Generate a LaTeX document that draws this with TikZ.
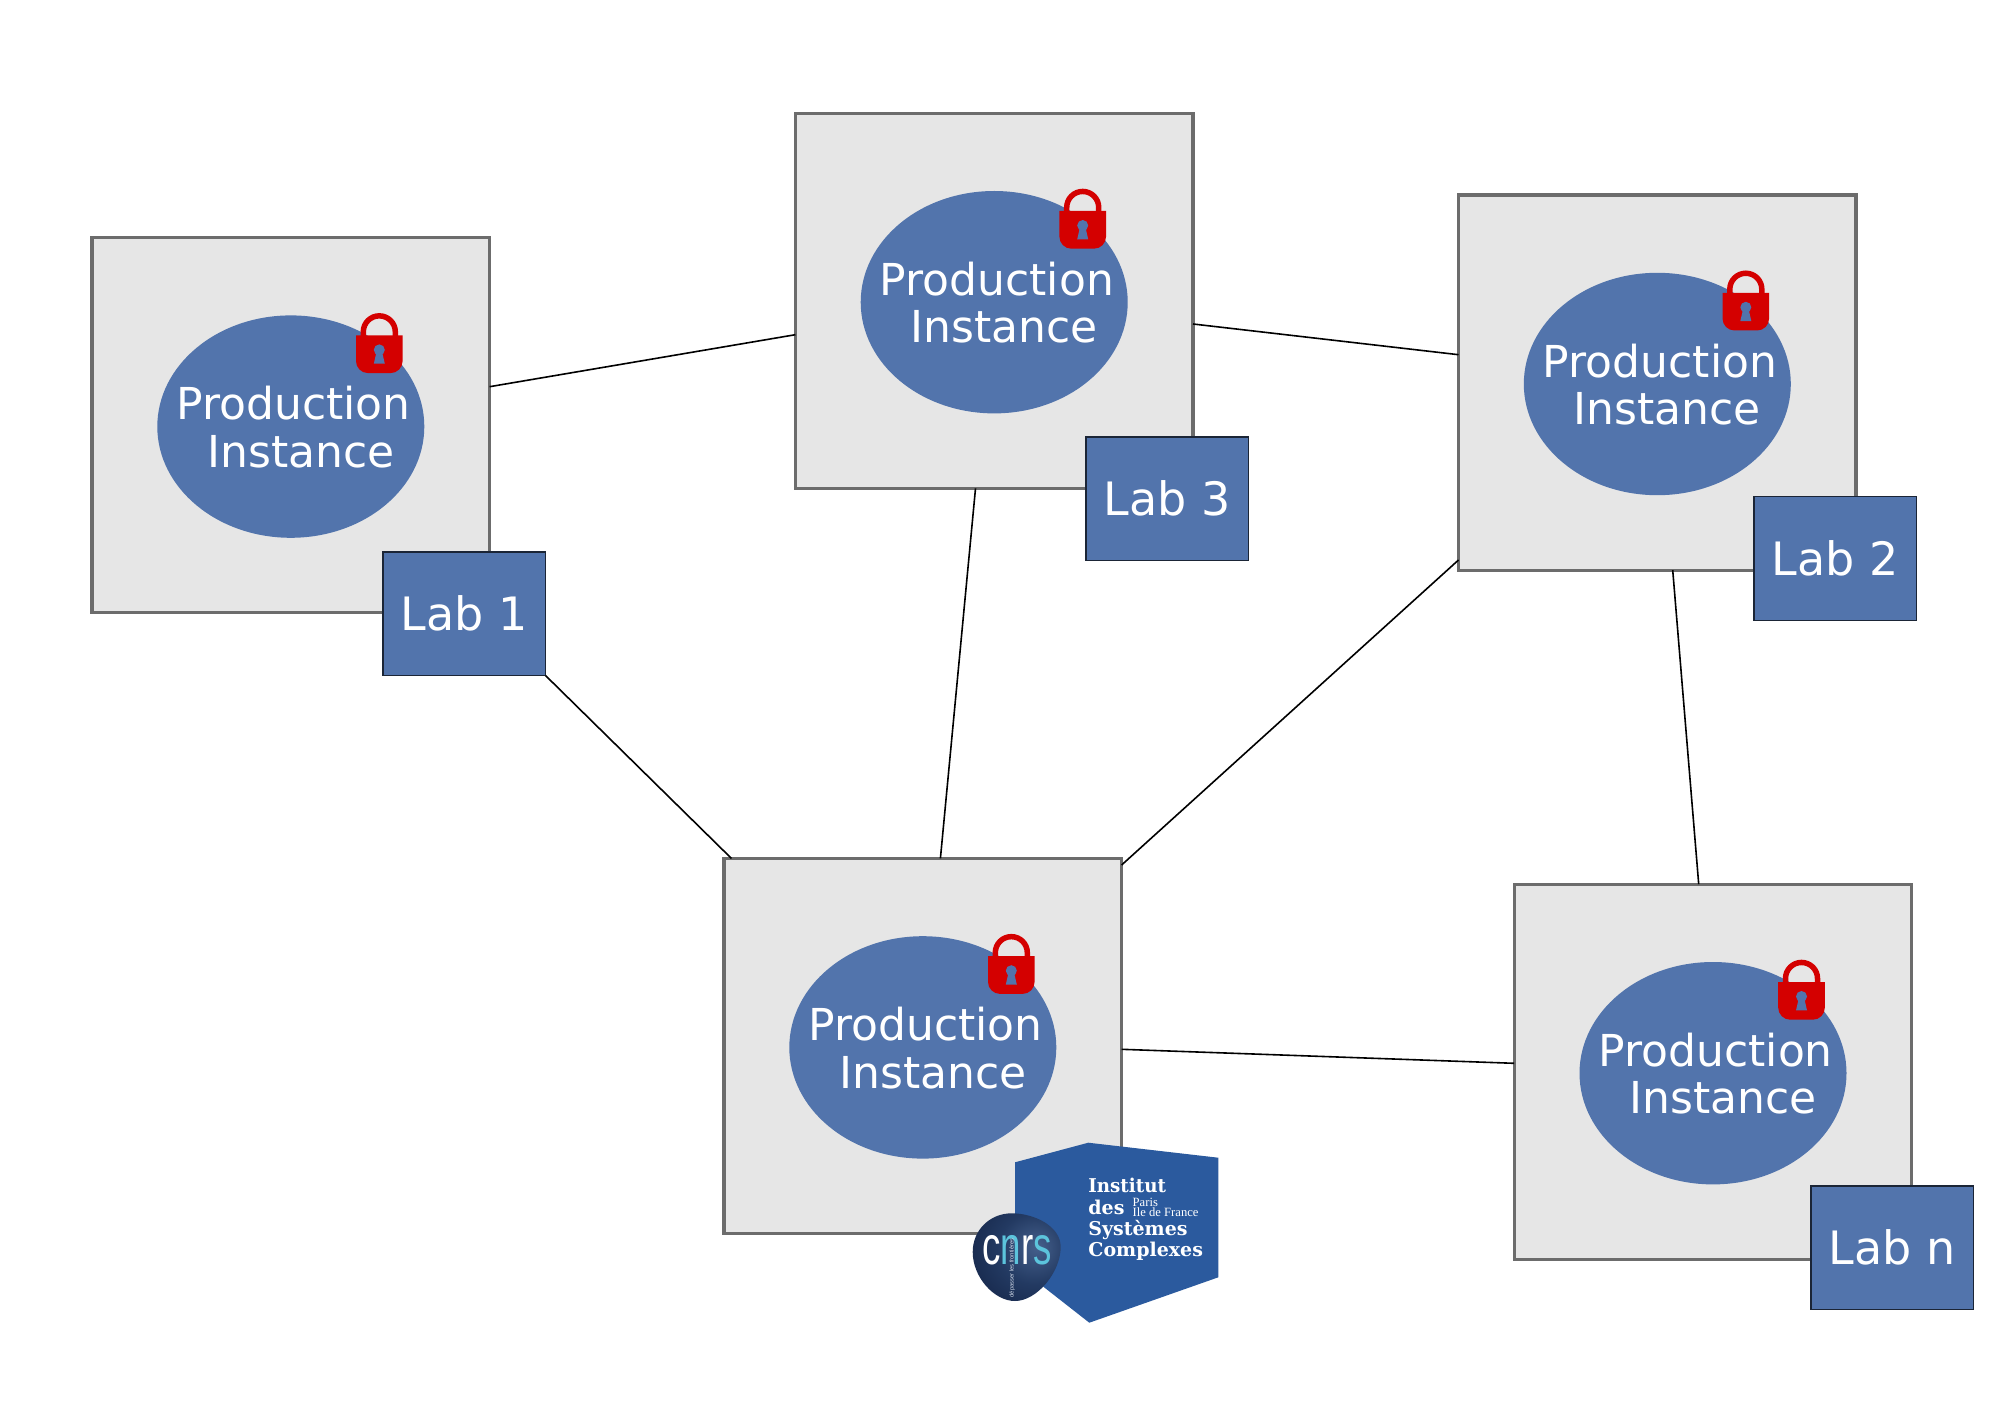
\documentclass[tikz,border=0pt]{standalone}
\usepackage{fontspec}
\setmainfont{DejaVu Sans}
\newfontfamily\logoserif{DejaVu Serif}
\newfontfamily\logotimes{Liberation Serif}
\newfontfamily\logosans{Liberation Sans}
\usetikzlibrary{shapes.geometric}
\definecolor{boxfill}{HTML}{E6E6E6}
\definecolor{boxline}{HTML}{6C6C6C}
\definecolor{instblue}{HTML}{5274AC}
\definecolor{labline}{HTML}{1B2536}
\definecolor{lockred}{HTML}{D40000}
\definecolor{iscblue}{HTML}{2B5A9E}
\definecolor{cnrscyan}{HTML}{5CC4DC}
\definecolor{cnrsa}{HTML}{45608C}
\definecolor{cnrsb}{HTML}{233A62}
\definecolor{cnrsc}{HTML}{0F1D3E}
\pgfdeclareradialshading{cnrsshade}{\pgfpoint{12bp}{6bp}}{%
  color(0bp)=(cnrsa);
  color(20bp)=(cnrsb);
  color(48bp)=(cnrsc);
  color(100bp)=(cnrsc)}
\tikzset{
  instbox/.style={draw=boxline,fill=boxfill,line width=1.65pt,minimum width=198.8pt,minimum height=187.6pt,inner sep=0pt,outer sep=0pt,anchor=north west},
  instell/.style={ellipse,fill=instblue,minimum width=133.5pt,minimum height=111.2pt,inner sep=0pt,outer sep=0pt},
  insttext/.style={text=white,align=center,inner sep=0pt,font=\fontsize{22}{23.7}\selectfont},
  labbox/.style={draw=labline,fill=instblue,line width=0.7pt,minimum width=81.25pt,minimum height=61.75pt,inner sep=0pt,outer sep=0pt,anchor=north west,text=white,font=\fontsize{23}{24}\selectfont},
  link/.style={draw=black,line width=0.8pt},
  logobig/.style={text=white,inner sep=0pt,anchor=base west,font=\logoserif\bfseries\fontsize{9.5}{10}\selectfont},
  logosmall/.style={text=white,inner sep=0pt,anchor=base west,font=\logotimes\fontsize{6.3}{7}\selectfont},
  padlock/.pic={
    \fill[lockred] (-23.3,22.3) -- (23.3,22.3) -- (23.3,48) arc[start angle=0,end angle=-90,x radius=12,y radius=-12]
      -- (-11.3,60) arc[start angle=-90,end angle=-180,x radius=12,y radius=-12] -- cycle;
    \draw[lockred,line width=2.75pt] (-16,23) -- (-16,18.75) arc[start angle=180,end angle=0,x radius=16,y radius=-16] -- (16,23);
    \fill[instblue] (0,36.8) circle[radius=5.5];
    \fill[instblue] (-2.6,38) -- (2.6,38) -- (5.5,50.6) -- (-5.5,50.6) -- cycle;
  }
}
\newcommand{\prodinst}[3]{%
  \node[instbox] (#1) at (#2,#3) {};
  \node[instell] (#1e) at ([yshift=-0.7pt]#1.center) {};
  \node[insttext] (#1t) at ([yshift=-0.3pt]#1e.center) {\hspace*{5.4\pxu}Production\\\hspace*{20\pxu}Instance};
  \pic at (#2+287.3,#3+75.5) {padlock};
}
\newlength{\pxu}\setlength{\pxu}{0.5pt}
\begin{document}
\begin{tikzpicture}[x=0.5pt,y=-0.5pt]
\useasboundingbox (0,0) rectangle (2000,1422);
\fill[white] (0,0) rectangle (2000,1422);
\prodinst{bone}{92}{237.6}
\prodinst{bthree}{795.4}{113.2}
\prodinst{btwo}{1458.5}{195}
\prodinst{bc}{724}{858.4}
\prodinst{bn}{1514.2}{884.2}
\node[labbox] (lone) at (383,552) {Lab 1};
\node[labbox] (lthree) at (1086,437) {Lab 3};
\node[labbox] (ltwo) at (1754,496.7) {Lab 2};
\node[labbox] (ln) at (1811,1186) {Lab n};
\draw[link] ([yshift=-74.55pt]bone.north east) -- ([yshift=-110.75pt]bthree.north west);
\draw[link] ([yshift=-105.4pt]bthree.north east) -- ([yshift=-79.85pt]btwo.north west);
\draw[link] ([xshift=90.05pt]bthree.south west) -- ([xshift=108.2pt]bc.north west);
\draw[link] ([yshift=-182.5pt]btwo.north west) -- ([yshift=-3.3pt]bc.north east);
\draw[link] ([xshift=107.1pt]btwo.south west) -- ([xshift=92.25pt]bn.north west);
\draw[link] ([yshift=-95.45pt]bc.north east) -- ([yshift=-89.55pt]bn.north west);
\draw[link] (lone.south east) -- ([xshift=3.7pt]bc.north west);
% logo
\fill[iscblue] (1015,1162.3) -- (1088.3,1142.7) -- (1218.3,1157.7) -- (1218.3,1277.3) -- (1089.3,1322.7) -- (1045,1288) -- (1015,1260) -- cycle;
\node[logobig,xscale=0.96] (linst) at (1088,1192.7) {Institut};
\node[logobig] (ldes) at (1088,1214.3) {des};
\node[logobig] (lsys) at (1088,1235) {Systèmes};
\node[logobig] (lcom) at (1088,1256.7) {Complexes};
\node[logosmall] (lpar) at (1132.3,1206.7) {Paris};
\node[logosmall] (lile) at (1132.3,1216.7) {Ile de France};
\shade[shading=cnrsshade] (1011.7,1213.3) .. controls (1034,1213.3) and (1060.7,1226) .. (1060.7,1247)
  .. controls (1060.7,1272) and (1037,1301) .. (1015,1301)
  .. controls (994,1301) and (972.7,1277) .. (972.7,1252)
  .. controls (972.7,1230) and (990,1213.3) .. (1011.7,1213.3) -- cycle;
\node[inner sep=0pt,anchor=base,xscale=0.68,font=\logosans\fontsize{27}{27}\selectfont] (cnrsword) at (1017,1264) {\textcolor{white}{c}\textcolor{cnrscyan}{n}\textcolor{white}{r}\textcolor{cnrscyan}{s}};
\node[inner sep=0pt,rotate=90,text=white!75!instblue,font=\logosans\fontsize{2.9}{3}\selectfont] (cnrstag) at (1012,1268) {dépasser les frontières};
\end{tikzpicture}
\end{document}
